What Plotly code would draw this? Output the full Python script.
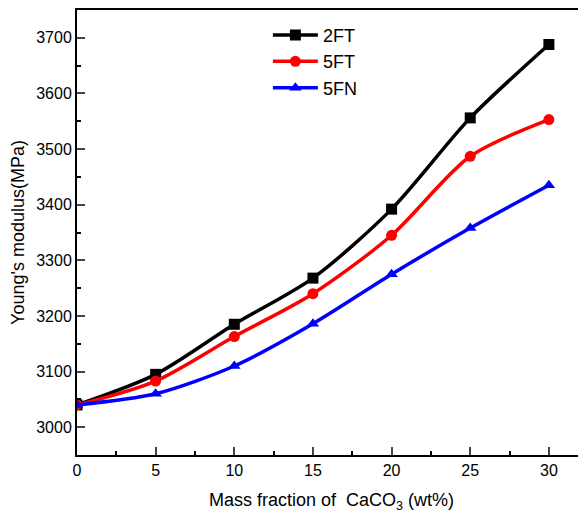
import plotly.graph_objects as go

x = [0, 5, 10, 15, 20, 25, 30]
ft2 = [3040, 3095, 3185, 3268, 3392, 3556, 3688]
ft5 = [3040, 3083, 3163, 3240, 3345, 3487, 3553]
fn5 = [3040, 3060, 3110, 3186, 3275, 3358, 3435]

fig = go.Figure()
series = [("2FT", ft2, "black", "square"), ("5FT", ft5, "red", "circle"), ("5FN", fn5, "blue", "triangle-up")]
for name, y, c, sym in series:
    fig.add_trace(go.Scatter(x=x, y=y, name=name, mode="lines+markers",
                             line=dict(color=c, width=3.5, shape="spline", smoothing=0.8),
                             marker=dict(symbol=sym, size=11, color=c)))

font = dict(family="Arial, Liberation Sans", size=15, color="black")
# page body has an 8px margin, so the figure is 8px smaller on each side
fig.update_layout(
    width=578, height=505, margin=dict(l=69, r=0, t=2, b=58),
    plot_bgcolor="white", paper_bgcolor="white", font=font,
    showlegend=True,
    legend=dict(x=0.375, y=0.985, xanchor="left", yanchor="top", bgcolor="rgba(0,0,0,0)",
                font=dict(family="Arial, Liberation Sans", size=18, color="black"), tracegroupgap=0, itemwidth=45),
)
fig.update_xaxes(range=[0, 32.36], tickvals=[0, 5, 10, 15, 20, 25, 30], ticks="inside", ticklen=8,
                 tickwidth=1.5, linecolor="black", linewidth=2, mirror=True, showgrid=False, zeroline=False,
                 automargin=False,
                 minor=dict(ticks="inside", ticklen=4, dtick=2.5, tick0=0, tickcolor="black"),
                 title=dict(text="Mass fraction of  CaCO<sub>3</sub> (wt%)", standoff=20, font=dict(size=18)),
                 tickfont=dict(size=16))
fig.update_yaxes(range=[2950, 3750], tickvals=[3000, 3100, 3200, 3300, 3400, 3500, 3600, 3700], ticks="inside",
                 ticklen=8, tickwidth=1.5, linecolor="black", linewidth=2, mirror=False, showgrid=False, zeroline=False,
                 automargin=False,
                 minor=dict(ticks="inside", ticklen=4, dtick=50, tick0=2950, tickcolor="black"),
                 title=dict(text="Young's modulus(MPa)", standoff=12, font=dict(size=18)),
                 tickfont=dict(size=16))
fig.write_html("out.html")
